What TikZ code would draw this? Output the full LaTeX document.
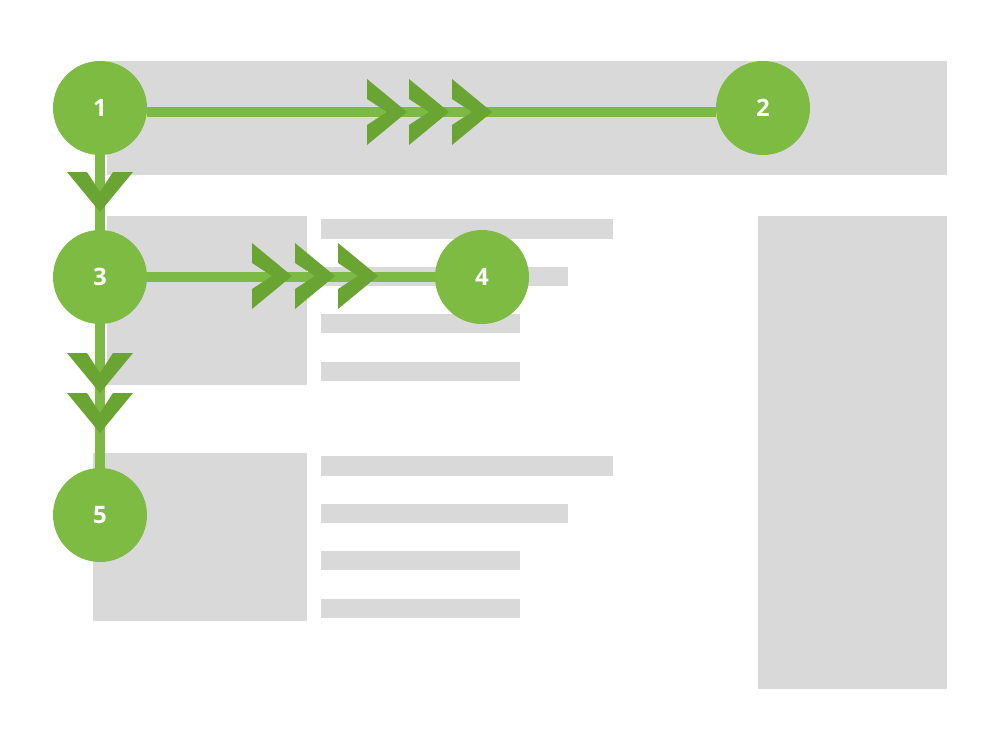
\documentclass[tikz,border=0pt]{standalone}
\usepackage{fontspec}
\setmainfont{Open Sans}
\usepackage{tikz}
\definecolor{panelgray}{HTML}{D9D9D9}
\definecolor{dotgreen}{HTML}{7DBB42}
\definecolor{trailgreen}{HTML}{7CBA45}
\definecolor{chevgreen}{HTML}{6AA432}
\def\chevright(#1,#2){\fill[chevgreen] (#1,#2-33) -- (#1+40,#2) -- (#1,#2+33) -- (#1,#2+13) -- (#1+20,#2) -- (#1,#2-13) -- cycle;}
\def\chevdown(#1,#2){\fill[chevgreen] (#1-33,#2) -- (#1,#2+40) -- (#1+33,#2) -- (#1+13,#2) -- (#1,#2+20) -- (#1-13,#2) -- cycle;}
\tikzset{
	numdot/.style={circle, fill=dotgreen, text=white, inner sep=0pt, minimum size=94pt,
		font=\bfseries\fontsize{24}{24}\selectfont},
	trail/.style={line width=10pt, color=trailgreen}
}

\begin{document}
\begin{tikzpicture}[x=1pt, y=-1pt]
			%%%%% START %%%%%
			\useasboundingbox (0, 0) rectangle (1000, 750);
			
			\fill[panelgray] (107, 61) rectangle (947, 175);
			\fill[panelgray] (758, 216) rectangle (947, 689);
			
			\fill[panelgray] (107, 216) rectangle (307, 385);
			\fill[panelgray] (321, 219) rectangle (613, 239);
			\fill[panelgray] (321, 267) rectangle (568, 286);
			\fill[panelgray] (321, 314) rectangle (520, 333);
			\fill[panelgray] (321, 362) rectangle (520, 381);
			
			\fill[panelgray] (93, 453) rectangle (307, 621);
			\fill[panelgray] (321, 456) rectangle (613, 476);
			\fill[panelgray] (321, 504) rectangle (568, 523);
			\fill[panelgray] (321, 551) rectangle (520, 570);
			\fill[panelgray] (321, 599) rectangle (520, 618);
			
			\node[numdot] (n1) at (100, 108) {1};
			\node[numdot] (n2) at (763, 108) {2};
			\node[numdot] (n3) at (100, 277) {3};
			\node[numdot] (n4) at (482, 277) {4};
			\node[numdot] (n5) at (100, 515) {5};
			
			\draw[trail] ([yshift=-4pt]n1.east) -- ([yshift=-4pt]n2.west);
			\draw[trail] (n3.east) -- (n4.west);
			\draw[trail] (n1.south) -- (n3.north);
			\draw[trail] (n3.south) -- (n5.north);
			
			\chevright(367, 112)
			\chevright(409, 112)
			\chevright(452, 112)
			
			\chevright(252, 276)
			\chevright(295, 276)
			\chevright(338, 276)
			
			\chevdown(100, 172)
			\chevdown(100, 353)
			\chevdown(100, 393)
			
			%%%%% END %%%%%
\end{tikzpicture}
\end{document}
